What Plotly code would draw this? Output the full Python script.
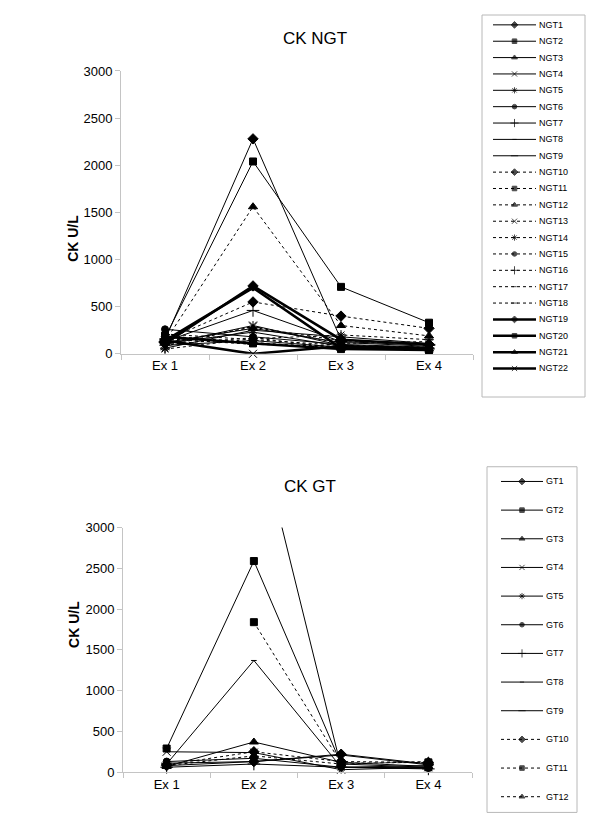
import plotly.graph_objects as go

CATS = ["Ex 1", "Ex 2", "Ex 3", "Ex 4"]

# CK U/L per exercise session, non-glucose-tolerant group
NGT1 = [150, 2280, 150, 100]
NGT2 = [170, 2040, 710, 330]
NGT3 = [120, 270, 120, 80]
NGT4 = [100, 300, 90, 60]
NGT5 = [60, 250, 180, 110]
NGT6 = [260, 180, 100, 70]
NGT7 = [130, 460, 130, 90]
NGT8 = [110, 230, 80, 60]
NGT9 = [90, 140, 70, 50]
NGT10 = [140, 550, 400, 270]
NGT11 = [190, 120, 60, 40]
NGT12 = [130, 1560, 300, 190]
NGT13 = [80, 290, 110, 130]
NGT14 = [50, 160, 200, 150]
NGT15 = [210, 150, 90, 70]
NGT16 = [120, 280, 140, 100]
NGT17 = [100, 170, 60, 50]
NGT18 = [160, 100, 80, 60]
NGT19 = [110, 720, 150, 100]
NGT20 = [180, 110, 50, 40]
NGT21 = [140, 700, 60, 50]
NGT22 = [140, 0, 80, 60]

# glucose-tolerant group
GT1 = [80, 130, 220, 100]
GT2 = [290, 2590, 100, 60]
GT3 = [70, 370, 120, 70]
GT4 = [250, 240, 30, 60]
GT5 = [None, 4400, 60, 80]
GT6 = [130, 170, 60, 50]
GT7 = [60, 100, 60, 40]
GT8 = [100, 1370, 60, 50]
GT9 = [110, 130, 210, 90]
GT10 = [90, 250, 130, 120]
GT11 = [None, 1840, 110, 120]
GT12 = [80, 200, 100, 130]

NGT_NAMES = [f"NGT{i}" for i in range(1, 23)]
NGT_SERIES = [NGT1, NGT2, NGT3, NGT4, NGT5, NGT6, NGT7, NGT8, NGT9, NGT10, NGT11,
              NGT12, NGT13, NGT14, NGT15, NGT16, NGT17, NGT18, NGT19, NGT20, NGT21, NGT22]
GT_NAMES = [f"GT{i}" for i in range(1, 13)]
GT_SERIES = [GT1, GT2, GT3, GT4, GT5, GT6, GT7, GT8, GT9, GT10, GT11, GT12]

# excel-ish marker cycle
SYMBOLS = ["diamond", "square", "triangle-up", "x-thin-open", "asterisk-open",
           "circle", "cross-thin-open", "line-ew-open", "line-ew-open"]
SIZES = [8, 7, 8, 8, 8, 7, 9, 4, 8]
FONT = "Arial, Liberation Sans, sans-serif"
W, H = 600, 835
OFF = 8  # page body margin shifts the figure by this much


def style(i):
    """marker/dash/width for series index i (Excel default cycle)."""
    if i < 9:
        return SYMBOLS[i], SIZES[i], "solid", 1
    if i < 18:
        return SYMBOLS[i - 9], SIZES[i - 9], "3px,3px", 1
    return SYMBOLS[i - 18], SIZES[i - 18], "solid", 2.5


def px_x(p):
    return (p - OFF) / W


def px_y(p):
    return (H - (p - OFF)) / H


fig = go.Figure()
legend_notes = []


def add_chart(names, series, xa, ya, lxa, lya):
    for i, (name, vals) in enumerate(zip(names, series)):
        sym, size, dash, width = style(i)
        mk = dict(symbol=sym, size=size, color="black", line=dict(color="black", width=1))
        fig.add_trace(go.Scatter(
            x=CATS, y=vals, name=name, mode="lines+markers", xaxis=xa, yaxis=ya,
            line=dict(color="black", width=width, dash=dash), marker=mk,
            cliponaxis=max(v for v in vals if v is not None) > 3000, showlegend=False,
        ))
        # hand-built legend row
        fig.add_trace(go.Scatter(
            x=[0, 0.5, 1], y=[i, i, i], mode="lines+markers", xaxis=lxa, yaxis=lya,
            line=dict(color="black", width=width, dash=dash),
            marker=dict(symbol=sym, size=[0, max(size * 0.65, 3), 0], color="black",
                        line=dict(color="black", width=1)),
            cliponaxis=False, showlegend=False, hoverinfo="skip",
        ))
        legend_notes.append(dict(
            text=name, x=1, y=i, xref=lxa, yref=lya, xanchor="left", xshift=1,
            showarrow=False, font=dict(family=FONT, size=9, color="black"),
        ))


add_chart(NGT_NAMES, NGT_SERIES, "x", "y", "x3", "y3")
add_chart(GT_NAMES, GT_SERIES, "x2", "y2", "x4", "y4")

axis_common = dict(showgrid=False, zeroline=False, showline=True, linecolor="#c4c4c4",
                   ticks="outside", ticklen=5, tickcolor="#c4c4c4",
                   tickfont=dict(family=FONT, size=13, color="black"))
yaxis_common = dict(axis_common, range=[0, 3000], tickvals=[0, 500, 1000, 1500, 2000, 2500, 3000])
xaxis_common = dict(axis_common, type="category", tickson="boundaries", range=[-0.5, 3.5])
hidden = dict(visible=False, showgrid=False, zeroline=False, fixedrange=True)

fig.update_layout(
    width=W, height=H, margin=dict(l=0, r=0, t=0, b=0),
    paper_bgcolor="white", plot_bgcolor="white",
    xaxis=dict(xaxis_common, domain=[px_x(121), px_x(473)], anchor="y"),
    yaxis=dict(yaxis_common, domain=[px_y(353), px_y(65)], anchor="x"),
    xaxis2=dict(xaxis_common, domain=[px_x(123), px_x(472)], anchor="y2"),
    yaxis2=dict(yaxis_common, domain=[px_y(779), px_y(530)], anchor="x2"),
    xaxis3=dict(hidden, range=[0, 1], domain=[px_x(493), px_x(536)], anchor="y3"),
    yaxis3=dict(hidden, range=[21.5, -0.5], domain=[px_y(376.3), px_y(9.7)], anchor="x3"),
    xaxis4=dict(hidden, range=[0, 1], domain=[px_x(501), px_x(543)], anchor="y4"),
    yaxis4=dict(hidden, range=[11.5, -0.5], domain=[px_y(818.6), px_y(468.4)], anchor="x4"),
    shapes=[
        dict(type="rect", xref="paper", yref="paper", x0=px_x(482), x1=px_x(585),
             y0=px_y(397), y1=px_y(8), line=dict(color="#b8b8b8", width=1)),
        dict(type="rect", xref="paper", yref="paper", x0=px_x(487), x1=px_x(577),
             y0=px_y(820), y1=px_y(468), line=dict(color="#b8b8b8", width=1)),
    ],
    annotations=[
        dict(text="CK NGT", x=px_x(315), y=px_y(20), xref="paper", yref="paper",
             showarrow=False, font=dict(family=FONT, size=17, color="black")),
        dict(text="CK GT", x=px_x(310), y=px_y(488), xref="paper", yref="paper",
             showarrow=False, font=dict(family=FONT, size=17, color="black")),
        dict(text="<b>CK U/L</b>", x=px_x(63), y=px_y(210), xref="paper", yref="paper",
             textangle=-90, showarrow=False, font=dict(family=FONT, size=14, color="black")),
        dict(text="<b>CK U/L</b>", x=px_x(64), y=px_y(655), xref="paper", yref="paper",
             textangle=-90, showarrow=False, font=dict(family=FONT, size=14, color="black")),
    ] + legend_notes,
)

fig.write_html("out.html")
